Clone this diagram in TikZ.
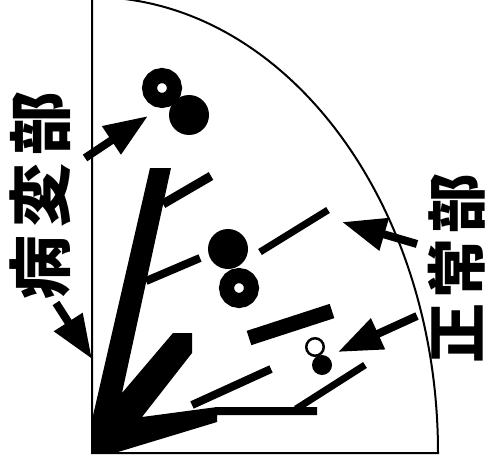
\documentclass[tikz,border=0pt]{standalone}
\usepackage{fontspec}
\newfontfamily\cjk{Noto Sans CJK JP}
\usetikzlibrary{arrows.meta}

\begin{document}
\begin{tikzpicture}[x=1pt, y=-1pt,
    blob/.style={circle, fill=black, inner sep=0pt, minimum size=40pt},
    ringdot/.style={circle, draw=black, line width=15pt, inner sep=0pt, minimum size=25pt},
    hollow/.style={circle, draw=black, line width=2.5pt, inner sep=0pt, minimum size=17.5pt},
    twig/.style={line width=#1, line cap=butt},
    pointer/.style={line width=8pt, -{Triangle[length=44pt, width=32pt]}},
    label/.style={rotate=90, inner sep=0pt, font=\cjk\bfseries\fontsize{#1}{#1}\selectfont}]
      \useasboundingbox (0,0) rectangle (486,465);
      \clip (0,0) rectangle (486,465);

      % quadrant frame
      \draw[line width=2pt] (92,0) -- (92,453) -- (438,453)
        arc[start angle=0, end angle=-90, x radius=346, y radius=456];

      % black fan from the corner
      \fill (92,453) -- (92,420) -- (150,168) -- (171,168) -- (122,393)
        -- (173,333) -- (192,333) -- (192,353) -- (142,417) -- (217,407)
        -- (317,407) -- (317,415) -- (217,415) -- (217,422) -- (118,452) -- cycle;
      \draw[twig=9pt] (163,204) -- (211,176);
      \draw[twig=8pt] (146,281) -- (200,258);
      \draw[twig=8pt] (192,405) -- (271,369);
      \draw[twig=7pt] (296,409) -- (365,365);

      % bars
      \draw[twig=7pt] (260,252) -- (328,210);
      \draw[twig=15pt] (249,338) -- (332,311);

      % particles
      \node[ringdot] (lesA) at (162,88) {};
      \node[blob] (lesB) at (189,115) {};
      \node[blob] (lesC) at (228,249) {};
      \node[ringdot] (lesD) at (239,288) {};
      \node[hollow] (norA) at (315,347) {};
      \node[blob, minimum size=20pt] (norB) at (322,365) {};

      % labels
      \node[label=64pt] (lesion) at (40,195) {病\hspace{8pt}変\hspace{8pt}部};
      \node[label=60pt] (normal) at (457,268) {正\hspace{5pt}常\hspace{5pt}部};

      % arrows
      \coordinate (lesTailA) at (85,158);
      \coordinate (lesTipA) at (148,116);
      \coordinate (lesTailB) at (56,303);
      \coordinate (lesTipB) at (92,359);
      \coordinate (norTailA) at (417,244);
      \coordinate (norTipA) at (342,222);
      \coordinate (norTailB) at (417,316);
      \coordinate (norTipB) at (338,352);
      \draw[pointer] (lesTailA) -- (lesTipA);
      \draw[pointer] (lesTailB) -- (lesTipB);
      \draw[pointer] (norTailA) -- (norTipA);
      \draw[pointer] (norTailB) -- (norTipB);
    \end{tikzpicture}
\end{document}
